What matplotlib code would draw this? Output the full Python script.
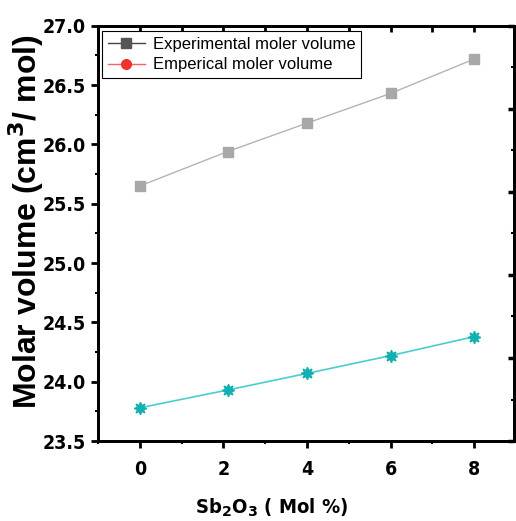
import matplotlib
matplotlib.use('Agg')
import matplotlib.pyplot as plt
from matplotlib.lines import Line2D
from matplotlib.ticker import MultipleLocator, FormatStrFormatter

# data
sb2o3 = [0, 2.1, 4, 6, 8]
experimenteel = [25.65, 25.94, 26.18, 26.43, 26.72]
empirisch = [23.78, 23.93, 24.07, 24.22, 24.38]
legend_labels = ['Experimental moler volume', 'Emperical moler volume']

fig = plt.figure(figsize=(5.16, 5.21), dpi=100)
ax = fig.add_axes([0.190, 0.1535, 0.806, 0.797])

ax.plot(sb2o3, experimenteel, color='#b4b4b4', lw=1.0, marker='s', ms=6.5,
        mfc='#a8a8a8', mec='#a8a8a8')
ax.plot(sb2o3, empirisch, color='#4ccccc', lw=1.2, marker=(8, 1, 0), ms=9,
        mfc='#12b0b0', mec='#12b0b0')

ax.set_xlim(-1, 8.95)
ax.set_ylim(23.5, 27.0)
ax.xaxis.set_major_locator(MultipleLocator(2))
ax.xaxis.set_minor_locator(MultipleLocator(1))
ax.yaxis.set_major_locator(MultipleLocator(0.5))
ax.yaxis.set_minor_locator(MultipleLocator(0.25))
ax.yaxis.set_major_formatter(FormatStrFormatter('%.1f'))

for s in ax.spines.values():
    s.set_linewidth(2.0)

ax.tick_params(which='major', direction='out', length=5, width=2)
ax.tick_params(axis='x', which='major', pad=9)
ax.tick_params(axis='y', which='major', pad=4)
ax.tick_params(which='minor', direction='out', length=2, width=1.5)
for lbl in ax.get_xticklabels() + ax.get_yticklabels():
    lbl.set_family('DejaVu Sans')
    lbl.set_stretch('condensed')
    lbl.set_fontweight('bold')
    lbl.set_fontsize(14)

# top and right axes with their own inward ticks
top = ax.secondary_xaxis('top')
top.xaxis.set_major_locator(MultipleLocator(1))
top.tick_params(direction='in', length=4, width=2, labeltop=False)
right = ax.twinx()
right.set_ylim(0, 5)
right.yaxis.set_major_locator(MultipleLocator(1))
right.yaxis.set_minor_locator(MultipleLocator(0.5))
right.tick_params(which='major', direction='in', length=4, width=2.5, labelright=False)
right.tick_params(which='minor', direction='in', length=2, width=1.5)
for s in right.spines.values():
    s.set_linewidth(2.0)

ax.set_ylabel(r'Molar volume (cm$^\mathbf{3}$/ mol)', family=['Liberation Sans', 'DejaVu Sans'],
              fontweight='bold', fontsize=23, va='center')
ax.yaxis.set_label_coords(-0.172, 0.528)
ax.set_xlabel(r'Sb$_\mathbf{2}$O$_\mathbf{3}$ ( Mol %)', family='DejaVu Sans',
              stretch='condensed', fontweight='bold', fontsize=14.5, va='center')
ax.xaxis.set_label_coords(0.418, -0.161)

handles = [Line2D([], [], color='#444444', lw=1, marker='s', ms=7, mfc='#555555', mec='#555555'),
           Line2D([], [], color='#ff6060', lw=1, marker='o', ms=7, mfc='#ee3333', mec='#ee3333')]
leg = ax.legend(handles, legend_labels, loc='upper left', bbox_to_anchor=(0.01, 0.988),
                borderaxespad=0, fancybox=False, framealpha=1, edgecolor='black',
                prop={'family': ['Liberation Sans', 'DejaVu Sans'], 'size': 12},
                handlelength=2.2, handletextpad=0.5, labelspacing=0.35, borderpad=0.35)
leg.get_frame().set_linewidth(0.8)
leg.set_zorder(5)

fig.savefig('out.png', dpi=100)
